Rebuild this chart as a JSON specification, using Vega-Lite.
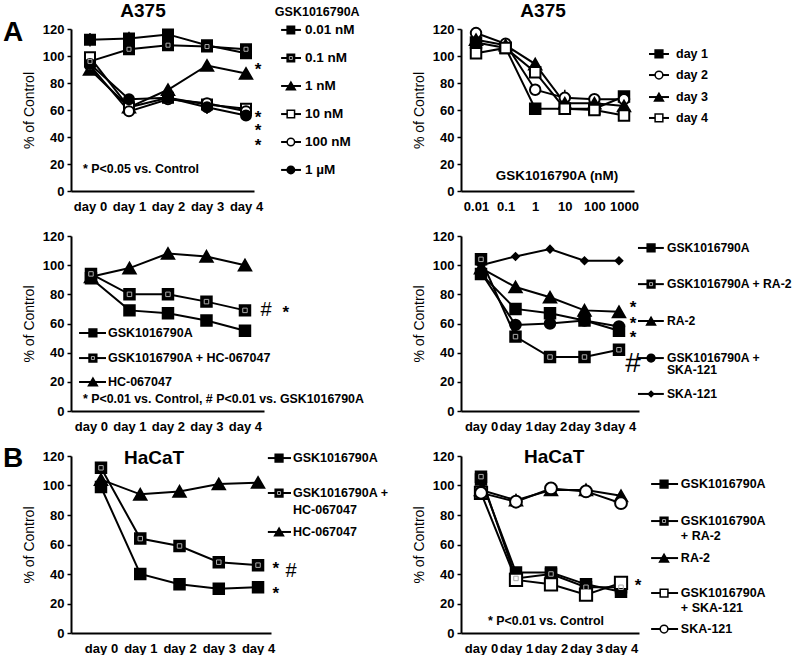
{
"$schema":"https://vega.github.io/schema/vega-lite/v6.json",
"background":"white",
"padding":{"left":2,"top":2,"right":5,"bottom":5},
"config":{
 "font":"Liberation Sans",
 "view":{"stroke":null},
 "axis":{"domainColor":"black","domainWidth":2,"tickColor":"black","labelColor":"black","labelFont":"Liberation Sans","labelFontWeight":"bold","labelFontSize":13,"titleColor":"black","titleFont":"Liberation Sans","grid":false},
 "axisX":{"ticks":false,"labelPadding":9,"labelAngle":0},
 "axisY":{"tickSize":4,"tickWidth":1.5,"labelPadding":3,"titleFontSize":14,"titleFontWeight":"normal","titlePadding":6},
 "text":{"color":"black"}
},
"columns":2,
"align":"none",
"bounds":"flush",
"spacing":{"row":45,"column":190},
"resolve":{"scale":{"shape":"independent","fill":"independent"}},
"datasets":{
 "p1":[
  {"s":"0.01 nM","x":0,"y":112},{"s":"0.01 nM","x":1,"y":113},{"s":"0.01 nM","x":2,"y":116},{"s":"0.01 nM","x":3,"y":108},{"s":"0.01 nM","x":4,"y":102},
  {"s":"0.1 nM","x":0,"y":96},{"s":"0.1 nM","x":1,"y":105},{"s":"0.1 nM","x":2,"y":108},{"s":"0.1 nM","x":3,"y":107},{"s":"0.1 nM","x":4,"y":105},
  {"s":"1 nM","x":0,"y":90},{"s":"1 nM","x":1,"y":62},{"s":"1 nM","x":2,"y":75},{"s":"1 nM","x":3,"y":93},{"s":"1 nM","x":4,"y":87},
  {"s":"10 nM","x":0,"y":99},{"s":"10 nM","x":1,"y":62},{"s":"10 nM","x":2,"y":69},{"s":"10 nM","x":3,"y":64},{"s":"10 nM","x":4,"y":61},
  {"s":"100 nM","x":0,"y":93},{"s":"100 nM","x":1,"y":59},{"s":"100 nM","x":2,"y":68},{"s":"100 nM","x":3,"y":65},{"s":"100 nM","x":4,"y":59},
  {"s":"1 µM","x":0,"y":94},{"s":"1 µM","x":1,"y":68},{"s":"1 µM","x":2,"y":69},{"s":"1 µM","x":3,"y":62},{"s":"1 µM","x":4,"y":56}
 ],
 "e1":[{"x":0,"lo":107,"hi":117},{"x":1,"lo":109,"hi":118},{"x":2,"lo":112,"hi":119},{"x":3,"lo":57,"hi":68}],
 "l1":[
  {"s":"0.01 nM","t":"0.01 nM","y":119.3,"x1":4.90,"x2":5.41,"xm":5.15,"xt":5.51},
  {"s":"0.1 nM","t":"0.1 nM","y":98.5,"x1":4.90,"x2":5.41,"xm":5.15,"xt":5.51},
  {"s":"1 nM","t":"1 nM","y":77.8,"x1":4.90,"x2":5.41,"xm":5.15,"xt":5.51},
  {"s":"10 nM","t":"10 nM","y":57.0,"x1":4.90,"x2":5.41,"xm":5.15,"xt":5.51},
  {"s":"100 nM","t":"100 nM","y":36.3,"x1":4.90,"x2":5.41,"xm":5.15,"xt":5.51},
  {"s":"1 µM","t":"1 µM","y":15.6,"x1":4.90,"x2":5.41,"xm":5.15,"xt":5.51}
 ],
 "t1":[
  {"k":"title","t":"A375","x":1.36,"y":133.3},
  {"k":"letter","t":"A","x":-1.97,"y":117},
  {"k":"legtitle","t":"GSK1016790A","x":4.74,"y":132.6},
  {"k":"note","t":"* P<0.05 vs. Control","x":-0.18,"y":16.3},
  {"k":"star","t":"*","x":4.31,"y":89.6},{"k":"star","t":"*","x":4.31,"y":54},{"k":"star","t":"*","x":4.31,"y":44.4},{"k":"star","t":"*","x":4.31,"y":33.3}
 ],
 "p2":[
  {"s":"day 1","x":0.01,"y":110},{"s":"day 1","x":0.1,"y":106},{"s":"day 1","x":1,"y":61},{"s":"day 1","x":10,"y":61},{"s":"day 1","x":100,"y":61},{"s":"day 1","x":1000,"y":70},
  {"s":"day 2","x":0.01,"y":117},{"s":"day 2","x":0.1,"y":109},{"s":"day 2","x":1,"y":75},{"s":"day 2","x":10,"y":69},{"s":"day 2","x":100,"y":68},{"s":"day 2","x":1000,"y":68},
  {"s":"day 3","x":0.01,"y":112},{"s":"day 3","x":0.1,"y":108},{"s":"day 3","x":1,"y":94},{"s":"day 3","x":10,"y":65},{"s":"day 3","x":100,"y":65},{"s":"day 3","x":1000,"y":63},
  {"s":"day 4","x":0.01,"y":102},{"s":"day 4","x":0.1,"y":106},{"s":"day 4","x":1,"y":88},{"s":"day 4","x":10,"y":61},{"s":"day 4","x":100,"y":60},{"s":"day 4","x":1000,"y":56}
 ],
 "e2":[{"x":10,"lo":64,"hi":75},{"x":0.01,"lo":108,"hi":118}],
 "l2":[
  {"s":"day 1","t":"day 1","y":101.5,"x1":7000,"x2":33100,"xm":15200,"xt":57150},
  {"s":"day 2","t":"day 2","y":85.9,"x1":7000,"x2":33100,"xm":15200,"xt":57150},
  {"s":"day 3","t":"day 3","y":69.6,"x1":7000,"x2":33100,"xm":15200,"xt":57150},
  {"s":"day 4","t":"day 4","y":54.1,"x1":7000,"x2":33100,"xm":15200,"xt":57150}
 ],
 "t2":[
  {"k":"title","t":"A375","x":1.84,"y":133.3},
  {"k":"axlab","t":"GSK1016790A (nM)","x":5.45,"y":11.1}
 ],
 "p3":[
  {"s":"GSK1016790A","x":0,"y":91},{"s":"GSK1016790A","x":1,"y":69},{"s":"GSK1016790A","x":2,"y":67},{"s":"GSK1016790A","x":3,"y":62},{"s":"GSK1016790A","x":4,"y":55},
  {"s":"GSK1016790A + HC-067047","x":0,"y":94},{"s":"GSK1016790A + HC-067047","x":1,"y":80},{"s":"GSK1016790A + HC-067047","x":2,"y":80},{"s":"GSK1016790A + HC-067047","x":3,"y":75},{"s":"GSK1016790A + HC-067047","x":4,"y":69},
  {"s":"HC-067047","x":0,"y":92},{"s":"HC-067047","x":1,"y":98},{"s":"HC-067047","x":2,"y":108},{"s":"HC-067047","x":3,"y":106},{"s":"HC-067047","x":4,"y":100}
 ],
 "l3":[
  {"s":"GSK1016790A","t":"GSK1016790A","y":53.5,"x1":-0.31,"x2":0.39,"xm":0.05,"xt":0.44},
  {"s":"GSK1016790A + HC-067047","t":"GSK1016790A + HC-067047","y":36.3,"x1":-0.31,"x2":0.39,"xm":0.05,"xt":0.44},
  {"s":"HC-067047","t":"HC-067047","y":19.9,"x1":-0.31,"x2":0.39,"xm":0.05,"xt":0.44}
 ],
 "t3":[
  {"k":"note","t":"* P<0.01 vs. Control, # P<0.01 vs. GSK1016790A","x":-0.21,"y":8.2},
  {"k":"hash","t":"#","x":4.55,"y":69.3},
  {"k":"star","t":"*","x":5.06,"y":67.5}
 ],
 "p4":[
  {"s":"GSK1016790A","x":0,"y":94},{"s":"GSK1016790A","x":1,"y":70},{"s":"GSK1016790A","x":2,"y":67},{"s":"GSK1016790A","x":3,"y":62},{"s":"GSK1016790A","x":4,"y":55},
  {"s":"GSK1016790A + RA-2","x":0,"y":104},{"s":"GSK1016790A + RA-2","x":1,"y":51},{"s":"GSK1016790A + RA-2","x":2,"y":37},{"s":"GSK1016790A + RA-2","x":3,"y":37},{"s":"GSK1016790A + RA-2","x":4,"y":42},
  {"s":"RA-2","x":0,"y":98},{"s":"RA-2","x":1,"y":85},{"s":"RA-2","x":2,"y":78},{"s":"RA-2","x":3,"y":69},{"s":"RA-2","x":4,"y":68},
  {"s":"GSK1016790A + SKA-121","x":0,"y":95},{"s":"GSK1016790A + SKA-121","x":1,"y":59},{"s":"GSK1016790A + SKA-121","x":2,"y":60},{"s":"GSK1016790A + SKA-121","x":3,"y":62},{"s":"GSK1016790A + SKA-121","x":4,"y":58},
  {"s":"SKA-121","x":0,"y":100},{"s":"SKA-121","x":1,"y":106},{"s":"SKA-121","x":2,"y":111},{"s":"SKA-121","x":3,"y":103},{"s":"SKA-121","x":4,"y":103}
 ],
 "l4":[
  {"s":"GSK1016790A","t":"GSK1016790A","y":111.8,"x1":4.55,"x2":5.30,"xm":4.93,"xt":5.39},
  {"s":"GSK1016790A + RA-2","t":"GSK1016790A + RA-2","y":87,"x1":4.55,"x2":5.30,"xm":4.93,"xt":5.39},
  {"s":"RA-2","t":"RA-2","y":61.7,"x1":4.55,"x2":5.30,"xm":4.93,"xt":5.39},
  {"s":"GSK1016790A + SKA-121","t":"GSK1016790A +","y":36.3,"x1":4.55,"x2":5.30,"xm":4.93,"xt":5.39},
  {"s":"SKA-121","t":"SKA-121","y":11.7,"x1":4.55,"x2":5.30,"xm":4.93,"xt":5.39}
 ],
 "t4":[
  {"k":"legtitle","t":"SKA-121","x":5.39,"y":28.1},
  {"k":"star","t":"*","x":4.41,"y":70.7},{"k":"star","t":"*","x":4.41,"y":59.7},{"k":"star","t":"*","x":4.41,"y":50.1},
  {"k":"hashbig","t":"#","x":4.41,"y":32.2}
 ],
 "p5":[
  {"s":"GSK1016790A","x":0,"y":99},{"s":"GSK1016790A","x":1,"y":40},{"s":"GSK1016790A","x":2,"y":33},{"s":"GSK1016790A","x":3,"y":30},{"s":"GSK1016790A","x":4,"y":31},
  {"s":"GSK1016790A + HC-067047","x":0,"y":112},{"s":"GSK1016790A + HC-067047","x":1,"y":64},{"s":"GSK1016790A + HC-067047","x":2,"y":59},{"s":"GSK1016790A + HC-067047","x":3,"y":48},{"s":"GSK1016790A + HC-067047","x":4,"y":46},
  {"s":"HC-067047","x":0,"y":104},{"s":"HC-067047","x":1,"y":94},{"s":"HC-067047","x":2,"y":96},{"s":"HC-067047","x":3,"y":101},{"s":"HC-067047","x":4,"y":102}
 ],
 "l5":[
  {"s":"GSK1016790A","t":"GSK1016790A","y":118.6,"x1":4.25,"x2":4.84,"xm":4.535,"xt":4.89},
  {"s":"GSK1016790A + HC-067047","t":"GSK1016790A +","y":94.9,"x1":4.25,"x2":4.84,"xm":4.535,"xt":4.89},
  {"s":"HC-067047","t":"HC-067047","y":68.5,"x1":4.25,"x2":4.84,"xm":4.535,"xt":4.89}
 ],
 "t5":[
  {"k":"legtitle","t":"HC-067047","x":4.89,"y":83.4},
  {"k":"title","t":"HaCaT","x":1.35,"y":118.6},
  {"k":"letter","t":"B","x":-2.24,"y":118},
  {"k":"star","t":"*","x":4.45,"y":43.4},{"k":"star","t":"*","x":4.45,"y":26.5},
  {"k":"hash","t":"#","x":4.84,"y":42}
 ],
 "p6":[
  {"s":"GSK1016790A","x":0,"y":104},{"s":"GSK1016790A","x":1,"y":41},{"s":"GSK1016790A","x":2,"y":41},{"s":"GSK1016790A","x":3,"y":33},{"s":"GSK1016790A","x":4,"y":28},
  {"s":"GSK1016790A + RA-2","x":0,"y":106},{"s":"GSK1016790A + RA-2","x":1,"y":37},{"s":"GSK1016790A + RA-2","x":2,"y":40},{"s":"GSK1016790A + RA-2","x":3,"y":31},{"s":"GSK1016790A + RA-2","x":4,"y":31},
  {"s":"RA-2","x":0,"y":97},{"s":"RA-2","x":1,"y":90},{"s":"RA-2","x":2,"y":97},{"s":"RA-2","x":3,"y":97},{"s":"RA-2","x":4,"y":93},
  {"s":"GSK1016790A + SKA-121","x":0,"y":95},{"s":"GSK1016790A + SKA-121","x":1,"y":36},{"s":"GSK1016790A + SKA-121","x":2,"y":33},{"s":"GSK1016790A + SKA-121","x":3,"y":26},{"s":"GSK1016790A + SKA-121","x":4,"y":34},
  {"s":"SKA-121","x":0,"y":95},{"s":"SKA-121","x":1,"y":89},{"s":"SKA-121","x":2,"y":98},{"s":"SKA-121","x":3,"y":96},{"s":"SKA-121","x":4,"y":88}
 ],
 "l6":[
  {"s":"GSK1016790A","t":"GSK1016790A","y":101,"x1":4.86,"x2":5.63,"xm":5.23,"xt":5.71},
  {"s":"GSK1016790A + RA-2","t":"GSK1016790A","y":75.9,"x1":4.86,"x2":5.63,"xm":5.23,"xt":5.71},
  {"s":"RA-2","t":"RA-2","y":50.8,"x1":4.86,"x2":5.63,"xm":5.23,"xt":5.71},
  {"s":"GSK1016790A + SKA-121","t":"GSK1016790A","y":27.1,"x1":4.86,"x2":5.63,"xm":5.23,"xt":5.71},
  {"s":"SKA-121","t":"SKA-121","y":2.7,"x1":4.86,"x2":5.63,"xm":5.23,"xt":5.71}
 ],
 "t6":[
  {"k":"legtitle","t":"+ RA-2","x":5.71,"y":65.8},
  {"k":"legtitle","t":"+ SKA-121","x":5.71,"y":16.9},
  {"k":"title","t":"HaCaT","x":2.09,"y":119.3},
  {"k":"star","t":"*","x":4.49,"y":31.9},
  {"k":"note","t":"* P<0.01 vs. Control","x":0.2,"y":8.1}
 ]
},
"concat":[
 {
  "width":183,"height":162,
  "encoding":{
   "x":{"field":"x","type":"quantitative","scale":{"domain":[-0.487,4.205],"nice":false,"zero":false},"axis":{"title":null,"values":[0,1,2,3,4],"labelExpr":"'day ' + datum.value"}},
   "y":{"field":"y","type":"quantitative","scale":{"domain":[0,120],"nice":false,"zero":false},"axis":{"title":"% of Control","values":[0,20,40,60,80,100,120]}}
  },
  "layer":[
   {"data":{"name":"p1"},"mark":{"type":"line","color":"black","strokeWidth":2},"encoding":{"detail":{"field":"s","type":"nominal"}}},
   {"data":{"name":"e1"},"mark":{"type":"rule","color":"black","strokeWidth":1.5},"encoding":{"y":{"field":"lo","type":"quantitative"},"y2":{"field":"hi"}}},
   {"data":{"name":"p1"},"mark":{"type":"point","filled":true,"opacity":1,"stroke":"black","strokeWidth":2},"encoding":{
     "shape":{"field":"s","type":"nominal","scale":{"domain":["0.01 nM","0.1 nM","1 nM","10 nM","100 nM","1 µM"],"range":["square","square","triangle-up","square","circle","circle"]},"legend":null},
     "fill":{"field":"s","type":"nominal","scale":{"domain":["0.01 nM","0.1 nM","1 nM","10 nM","100 nM","1 µM"],"range":["black","black","black","white","white","black"]},"legend":null},
     "size":{"condition":{"test":"datum.s === '1 nM'","value":150},"value":100}}},
   {"data":{"name":"p1"},"transform":[{"filter":"datum.s === '0.1 nM'"}],"mark":{"type":"point","shape":"square","filled":false,"opacity":1,"stroke":"#aaa","strokeWidth":1,"size":16}},
   {"data":{"name":"l1"},"mark":{"type":"rule","color":"black","strokeWidth":2},"encoding":{"x":{"field":"x1","type":"quantitative"},"x2":{"field":"x2"}}},
   {"data":{"name":"l1"},"mark":{"type":"point","filled":true,"opacity":1,"stroke":"black","strokeWidth":1.5},"encoding":{"x":{"field":"xm","type":"quantitative"},
     "shape":{"field":"s","type":"nominal","legend":null},"fill":{"field":"s","type":"nominal","legend":null},
     "size":{"condition":{"test":"datum.s === '1 nM'","value":80},"value":55}}},
   {"data":{"name":"l1"},"transform":[{"filter":"datum.s === '0.1 nM'"}],"mark":{"type":"point","shape":"square","filled":false,"opacity":1,"stroke":"#aaa","strokeWidth":1,"size":9},"encoding":{"x":{"field":"xm","type":"quantitative"}}},
   {"data":{"name":"l1"},"mark":{"type":"text","align":"left","baseline":"middle","fontWeight":"bold","fontSize":13.5},"encoding":{"x":{"field":"xt","type":"quantitative"},"text":{"field":"t"}}},
   {"data":{"name":"t1"},"transform":[{"filter":"datum.k === 'title'"}],"mark":{"type":"text","align":"center","baseline":"middle","fontWeight":"bold","fontSize":19},"encoding":{"text":{"field":"t"}}},
   {"data":{"name":"t1"},"transform":[{"filter":"datum.k === 'letter'"}],"mark":{"type":"text","align":"center","baseline":"middle","fontWeight":"bold","fontSize":28},"encoding":{"text":{"field":"t"}}},
   {"data":{"name":"t1"},"transform":[{"filter":"datum.k === 'legtitle'"}],"mark":{"type":"text","align":"left","baseline":"middle","fontWeight":"bold","fontSize":12.5},"encoding":{"text":{"field":"t"}}},
   {"data":{"name":"t1"},"transform":[{"filter":"datum.k === 'note'"}],"mark":{"type":"text","align":"left","baseline":"middle","fontWeight":"bold","fontSize":12.4},"encoding":{"text":{"field":"t"}}},
   {"data":{"name":"t1"},"transform":[{"filter":"datum.k === 'star'"}],"mark":{"type":"text","align":"center","baseline":"middle","fontWeight":"bold","fontSize":17},"encoding":{"text":{"field":"t"}}}
  ]
 },
 {
  "width":173,"height":162,
  "encoding":{
   "x":{"field":"x","type":"quantitative","scale":{"type":"log","domain":[0.00311,2178],"nice":false},"axis":{"title":null,"values":[0.01,0.1,1,10,100,1000],"labelExpr":"datum.value < 0.05 ? '0.01' : datum.value < 0.5 ? '0.1' : format(datum.value, 'd')"}},
   "y":{"field":"y","type":"quantitative","scale":{"domain":[0,120],"nice":false,"zero":false},"axis":{"title":"% of Control","values":[0,20,40,60,80,100,120]}}
  },
  "layer":[
   {"data":{"name":"p2"},"mark":{"type":"line","color":"black","strokeWidth":2},"encoding":{"detail":{"field":"s","type":"nominal"}}},
   {"data":{"name":"e2"},"mark":{"type":"rule","color":"black","strokeWidth":1.5},"encoding":{"y":{"field":"lo","type":"quantitative"},"y2":{"field":"hi"}}},
   {"data":{"name":"p2"},"mark":{"type":"point","filled":true,"opacity":1,"stroke":"black","strokeWidth":2},"encoding":{
     "shape":{"field":"s","type":"nominal","scale":{"domain":["day 1","day 2","day 3","day 4"],"range":["square","circle","triangle-up","square"]},"legend":null},
     "fill":{"field":"s","type":"nominal","scale":{"domain":["day 1","day 2","day 3","day 4"],"range":["black","white","black","white"]},"legend":null},
     "size":{"condition":{"test":"datum.s === 'day 3'","value":150},"value":110}}},
   {"data":{"name":"l2"},"mark":{"type":"rule","color":"black","strokeWidth":2},"encoding":{"x":{"field":"x1","type":"quantitative"},"x2":{"field":"x2"}}},
   {"data":{"name":"l2"},"mark":{"type":"point","filled":true,"opacity":1,"stroke":"black","strokeWidth":1.5},"encoding":{"x":{"field":"xm","type":"quantitative"},
     "shape":{"field":"s","type":"nominal","legend":null},"fill":{"field":"s","type":"nominal","legend":null},
     "size":{"condition":{"test":"datum.s === 'day 3'","value":80},"value":60}}},
   {"data":{"name":"l2"},"mark":{"type":"text","align":"left","baseline":"middle","fontWeight":"bold","fontSize":12.5},"encoding":{"x":{"field":"xt","type":"quantitative"},"text":{"field":"t"}}},
   {"data":{"name":"t2"},"transform":[{"filter":"datum.k === 'title'"}],"mark":{"type":"text","align":"center","baseline":"middle","fontWeight":"bold","fontSize":19},"encoding":{"text":{"field":"t"}}},
   {"data":{"name":"t2"},"transform":[{"filter":"datum.k === 'axlab'"}],"mark":{"type":"text","align":"center","baseline":"middle","fontWeight":"bold","fontSize":13.4},"encoding":{"text":{"field":"t"}}}
  ]
 },
 {
  "width":193,"height":175,
  "encoding":{
   "x":{"field":"x","type":"quantitative","scale":{"domain":[-0.519,4.494],"nice":false,"zero":false},"axis":{"title":null,"values":[0,1,2,3,4],"labelExpr":"'day ' + datum.value"}},
   "y":{"field":"y","type":"quantitative","scale":{"domain":[0,120],"nice":false,"zero":false},"axis":{"title":"% of Control","values":[0,20,40,60,80,100,120]}}
  },
  "layer":[
   {"data":{"name":"p3"},"mark":{"type":"line","color":"black","strokeWidth":2},"encoding":{"detail":{"field":"s","type":"nominal"}}},
   {"data":{"name":"p3"},"mark":{"type":"point","filled":true,"opacity":1,"stroke":"black","strokeWidth":2},"encoding":{
     "shape":{"field":"s","type":"nominal","scale":{"domain":["GSK1016790A","GSK1016790A + HC-067047","HC-067047"],"range":["square","square","triangle-up"]},"legend":null},
     "fill":{"field":"s","type":"nominal","scale":{"domain":["GSK1016790A","GSK1016790A + HC-067047","HC-067047"],"range":["black","black","black"]},"legend":null},
     "size":{"condition":{"test":"datum.s === 'HC-067047'","value":150},"value":110}}},
   {"data":{"name":"p3"},"transform":[{"filter":"datum.s === 'GSK1016790A + HC-067047'"}],"mark":{"type":"point","shape":"square","filled":false,"opacity":1,"stroke":"#aaa","strokeWidth":1,"size":20}},
   {"data":{"name":"l3"},"mark":{"type":"rule","color":"black","strokeWidth":2},"encoding":{"x":{"field":"x1","type":"quantitative"},"x2":{"field":"x2"}}},
   {"data":{"name":"l3"},"mark":{"type":"point","filled":true,"opacity":1,"stroke":"black","strokeWidth":1.5},"encoding":{"x":{"field":"xm","type":"quantitative"},
     "shape":{"field":"s","type":"nominal","legend":null},"fill":{"field":"s","type":"nominal","legend":null},
     "size":{"condition":{"test":"datum.s === 'HC-067047'","value":80},"value":60}}},
   {"data":{"name":"l3"},"transform":[{"filter":"datum.s === 'GSK1016790A + HC-067047'"}],"mark":{"type":"point","shape":"square","filled":false,"opacity":1,"stroke":"#aaa","strokeWidth":1,"size":9},"encoding":{"x":{"field":"xm","type":"quantitative"}}},
   {"data":{"name":"l3"},"mark":{"type":"text","align":"left","baseline":"middle","fontWeight":"bold","fontSize":12.5},"encoding":{"x":{"field":"xt","type":"quantitative"},"text":{"field":"t"}}},
   {"data":{"name":"t3"},"transform":[{"filter":"datum.k === 'note'"}],"mark":{"type":"text","align":"left","baseline":"middle","fontWeight":"bold","fontSize":12.4},"encoding":{"text":{"field":"t"}}},
   {"data":{"name":"t3"},"transform":[{"filter":"datum.k === 'star'"}],"mark":{"type":"text","align":"center","baseline":"middle","fontWeight":"bold","fontSize":17},"encoding":{"text":{"field":"t"}}},
   {"data":{"name":"t3"},"transform":[{"filter":"datum.k === 'hash'"}],"mark":{"type":"text","align":"center","baseline":"middle","fontWeight":"normal","fontSize":20},"encoding":{"text":{"field":"t"}}}
  ]
 },
 {
  "width":178,"height":175,
  "encoding":{
   "x":{"field":"x","type":"quantitative","scale":{"domain":[-0.58,4.58],"nice":false,"zero":false},"axis":{"title":null,"values":[0,1,2,3,4],"labelExpr":"'day ' + datum.value"}},
   "y":{"field":"y","type":"quantitative","scale":{"domain":[0,120],"nice":false,"zero":false},"axis":{"title":"% of Control","values":[0,20,40,60,80,100,120]}}
  },
  "layer":[
   {"data":{"name":"p4"},"mark":{"type":"line","color":"black","strokeWidth":2},"encoding":{"detail":{"field":"s","type":"nominal"}}},
   {"data":{"name":"p4"},"mark":{"type":"point","filled":true,"opacity":1,"stroke":"black","strokeWidth":2},"encoding":{
     "shape":{"field":"s","type":"nominal","scale":{"domain":["GSK1016790A","GSK1016790A + RA-2","RA-2","GSK1016790A + SKA-121","SKA-121"],"range":["square","square","triangle-up","circle","diamond"]},"legend":null},
     "fill":{"field":"s","type":"nominal","scale":{"domain":["GSK1016790A","GSK1016790A + RA-2","RA-2","GSK1016790A + SKA-121","SKA-121"],"range":["black","black","black","black","black"]},"legend":null},
     "size":{"condition":[{"test":"datum.s === 'RA-2'","value":150},{"test":"datum.s === 'SKA-121'","value":45}],"value":110}}},
   {"data":{"name":"p4"},"transform":[{"filter":"datum.s === 'GSK1016790A + RA-2'"}],"mark":{"type":"point","shape":"square","filled":false,"opacity":1,"stroke":"#aaa","strokeWidth":1,"size":20}},
   {"data":{"name":"l4"},"mark":{"type":"rule","color":"black","strokeWidth":2},"encoding":{"x":{"field":"x1","type":"quantitative"},"x2":{"field":"x2"}}},
   {"data":{"name":"l4"},"mark":{"type":"point","filled":true,"opacity":1,"stroke":"black","strokeWidth":1.5},"encoding":{"x":{"field":"xm","type":"quantitative"},
     "shape":{"field":"s","type":"nominal","legend":null},"fill":{"field":"s","type":"nominal","legend":null},
     "size":{"condition":[{"test":"datum.s === 'RA-2'","value":80},{"test":"datum.s === 'SKA-121'","value":30}],"value":60}}},
   {"data":{"name":"l4"},"transform":[{"filter":"datum.s === 'GSK1016790A + RA-2'"}],"mark":{"type":"point","shape":"square","filled":false,"opacity":1,"stroke":"#aaa","strokeWidth":1,"size":9},"encoding":{"x":{"field":"xm","type":"quantitative"}}},
   {"data":{"name":"l4"},"mark":{"type":"text","align":"left","baseline":"middle","fontWeight":"bold","fontSize":12.2},"encoding":{"x":{"field":"xt","type":"quantitative"},"text":{"field":"t"}}},
   {"data":{"name":"t4"},"transform":[{"filter":"datum.k === 'legtitle'"}],"mark":{"type":"text","align":"left","baseline":"middle","fontWeight":"bold","fontSize":12.2},"encoding":{"text":{"field":"t"}}},
   {"data":{"name":"t4"},"transform":[{"filter":"datum.k === 'star'"}],"mark":{"type":"text","align":"center","baseline":"middle","fontWeight":"bold","fontSize":17},"encoding":{"text":{"field":"t"}}},
   {"data":{"name":"t4"},"transform":[{"filter":"datum.k === 'hashbig'"}],"mark":{"type":"text","align":"center","baseline":"middle","fontWeight":"normal","fontSize":28},"encoding":{"text":{"field":"t"}}}
  ]
 },
 {
  "width":200,"height":177,
  "encoding":{
   "x":{"field":"x","type":"quantitative","scale":{"domain":[-0.764,4.33],"nice":false,"zero":false},"axis":{"title":null,"values":[0,1,2,3,4],"labelExpr":"'day ' + datum.value"}},
   "y":{"field":"y","type":"quantitative","scale":{"domain":[0,120],"nice":false,"zero":false},"axis":{"title":"% of Control","values":[0,20,40,60,80,100,120]}}
  },
  "layer":[
   {"data":{"name":"p5"},"mark":{"type":"line","color":"black","strokeWidth":2},"encoding":{"detail":{"field":"s","type":"nominal"}}},
   {"data":{"name":"p5"},"mark":{"type":"point","filled":true,"opacity":1,"stroke":"black","strokeWidth":2},"encoding":{
     "shape":{"field":"s","type":"nominal","scale":{"domain":["GSK1016790A","GSK1016790A + HC-067047","HC-067047"],"range":["square","square","triangle-up"]},"legend":null},
     "fill":{"field":"s","type":"nominal","scale":{"domain":["GSK1016790A","GSK1016790A + HC-067047","HC-067047"],"range":["black","black","black"]},"legend":null},
     "size":{"condition":{"test":"datum.s === 'HC-067047'","value":150},"value":110}}},
   {"data":{"name":"p5"},"transform":[{"filter":"datum.s === 'GSK1016790A + HC-067047'"}],"mark":{"type":"point","shape":"square","filled":false,"opacity":1,"stroke":"#aaa","strokeWidth":1,"size":20}},
   {"data":{"name":"l5"},"mark":{"type":"rule","color":"black","strokeWidth":2},"encoding":{"x":{"field":"x1","type":"quantitative"},"x2":{"field":"x2"}}},
   {"data":{"name":"l5"},"mark":{"type":"point","filled":true,"opacity":1,"stroke":"black","strokeWidth":1.5},"encoding":{"x":{"field":"xm","type":"quantitative"},
     "shape":{"field":"s","type":"nominal","legend":null},"fill":{"field":"s","type":"nominal","legend":null},
     "size":{"condition":{"test":"datum.s === 'HC-067047'","value":80},"value":60}}},
   {"data":{"name":"l5"},"transform":[{"filter":"datum.s === 'GSK1016790A + HC-067047'"}],"mark":{"type":"point","shape":"square","filled":false,"opacity":1,"stroke":"#aaa","strokeWidth":1,"size":9},"encoding":{"x":{"field":"xm","type":"quantitative"}}},
   {"data":{"name":"l5"},"mark":{"type":"text","align":"left","baseline":"middle","fontWeight":"bold","fontSize":12.5},"encoding":{"x":{"field":"xt","type":"quantitative"},"text":{"field":"t"}}},
   {"data":{"name":"t5"},"transform":[{"filter":"datum.k === 'legtitle'"}],"mark":{"type":"text","align":"left","baseline":"middle","fontWeight":"bold","fontSize":12.5},"encoding":{"text":{"field":"t"}}},
   {"data":{"name":"t5"},"transform":[{"filter":"datum.k === 'title'"}],"mark":{"type":"text","align":"center","baseline":"middle","fontWeight":"bold","fontSize":19},"encoding":{"text":{"field":"t"}}},
   {"data":{"name":"t5"},"transform":[{"filter":"datum.k === 'letter'"}],"mark":{"type":"text","align":"center","baseline":"middle","fontWeight":"bold","fontSize":28},"encoding":{"text":{"field":"t"}}},
   {"data":{"name":"t5"},"transform":[{"filter":"datum.k === 'star'"}],"mark":{"type":"text","align":"center","baseline":"middle","fontWeight":"bold","fontSize":17},"encoding":{"text":{"field":"t"}}},
   {"data":{"name":"t5"},"transform":[{"filter":"datum.k === 'hash'"}],"mark":{"type":"text","align":"center","baseline":"middle","fontWeight":"normal","fontSize":20},"encoding":{"text":{"field":"t"}}}
  ]
 },
 {
  "width":178,"height":177,
  "encoding":{
   "x":{"field":"x","type":"quantitative","scale":{"domain":[-0.571,4.514],"nice":false,"zero":false},"axis":{"title":null,"values":[0,1,2,3,4],"labelExpr":"'day ' + datum.value"}},
   "y":{"field":"y","type":"quantitative","scale":{"domain":[0,120],"nice":false,"zero":false},"axis":{"title":"% of Control","values":[0,20,40,60,80,100,120]}}
  },
  "layer":[
   {"data":{"name":"p6"},"mark":{"type":"line","color":"black","strokeWidth":2},"encoding":{"detail":{"field":"s","type":"nominal"}}},
   {"data":{"name":"p6"},"mark":{"type":"point","filled":true,"opacity":1,"stroke":"black","strokeWidth":2},"encoding":{
     "shape":{"field":"s","type":"nominal","scale":{"domain":["GSK1016790A","GSK1016790A + RA-2","RA-2","GSK1016790A + SKA-121","SKA-121"],"range":["square","square","triangle-up","square","circle"]},"legend":null},
     "fill":{"field":"s","type":"nominal","scale":{"domain":["GSK1016790A","GSK1016790A + RA-2","RA-2","GSK1016790A + SKA-121","SKA-121"],"range":["black","black","black","white","white"]},"legend":null},
     "size":{"condition":[{"test":"datum.s === 'RA-2'","value":150},{"test":"datum.s === 'GSK1016790A + SKA-121'","value":150},{"test":"datum.s === 'SKA-121'","value":140}],"value":110}}},
   {"data":{"name":"p6"},"transform":[{"filter":"datum.s === 'GSK1016790A + RA-2'"}],"mark":{"type":"point","shape":"square","filled":false,"opacity":1,"stroke":"#aaa","strokeWidth":1,"size":20}},
   {"data":{"name":"l6"},"mark":{"type":"rule","color":"black","strokeWidth":2},"encoding":{"x":{"field":"x1","type":"quantitative"},"x2":{"field":"x2"}}},
   {"data":{"name":"l6"},"mark":{"type":"point","filled":true,"opacity":1,"stroke":"black","strokeWidth":1.5},"encoding":{"x":{"field":"xm","type":"quantitative"},
     "shape":{"field":"s","type":"nominal","legend":null},"fill":{"field":"s","type":"nominal","legend":null},
     "size":{"condition":{"test":"datum.s === 'RA-2'","value":80},"value":60}}},
   {"data":{"name":"l6"},"transform":[{"filter":"datum.s === 'GSK1016790A + RA-2'"}],"mark":{"type":"point","shape":"square","filled":false,"opacity":1,"stroke":"#aaa","strokeWidth":1,"size":9},"encoding":{"x":{"field":"xm","type":"quantitative"}}},
   {"data":{"name":"l6"},"mark":{"type":"text","align":"left","baseline":"middle","fontWeight":"bold","fontSize":12.5},"encoding":{"x":{"field":"xt","type":"quantitative"},"text":{"field":"t"}}},
   {"data":{"name":"t6"},"transform":[{"filter":"datum.k === 'legtitle'"}],"mark":{"type":"text","align":"left","baseline":"middle","fontWeight":"bold","fontSize":12.5},"encoding":{"text":{"field":"t"}}},
   {"data":{"name":"t6"},"transform":[{"filter":"datum.k === 'title'"}],"mark":{"type":"text","align":"center","baseline":"middle","fontWeight":"bold","fontSize":19},"encoding":{"text":{"field":"t"}}},
   {"data":{"name":"t6"},"transform":[{"filter":"datum.k === 'star'"}],"mark":{"type":"text","align":"center","baseline":"middle","fontWeight":"bold","fontSize":17},"encoding":{"text":{"field":"t"}}},
   {"data":{"name":"t6"},"transform":[{"filter":"datum.k === 'note'"}],"mark":{"type":"text","align":"left","baseline":"middle","fontWeight":"bold","fontSize":12.4},"encoding":{"text":{"field":"t"}}}
  ]
 }
]
}
